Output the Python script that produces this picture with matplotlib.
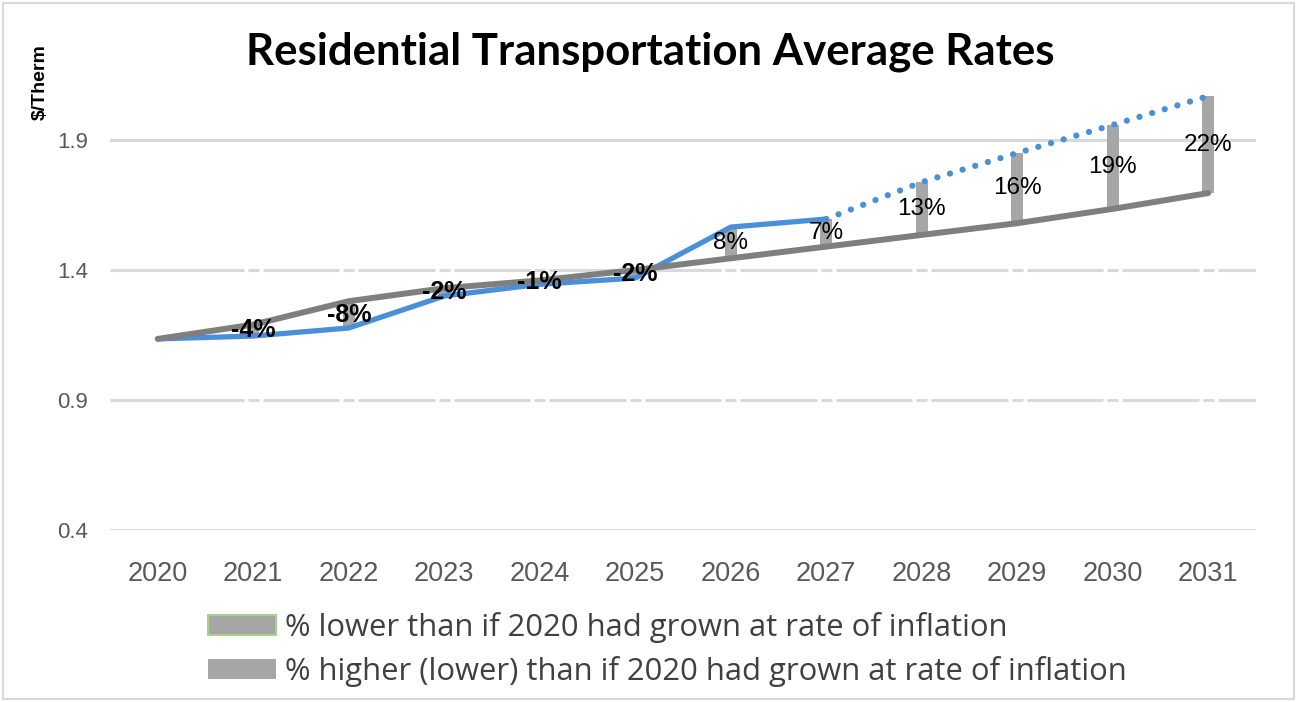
import matplotlib
matplotlib.use("Agg")
import matplotlib.pyplot as plt
from matplotlib.patches import Patch, Rectangle
import numpy as np

years = ["2020", "2021", "2022", "2023", "2024", "2025", "2026", "2027", "2028", "2029", "2030", "2031"]
inflation_path = [1.135, 1.19, 1.28, 1.33, 1.36, 1.40, 1.445, 1.49, 1.535, 1.58, 1.635, 1.696]
actual_rates = [1.135, 1.146, 1.177, 1.30, 1.345, 1.369, 1.565, 1.596]
forecast_rates = [1.596, 1.738, 1.85, 1.958, 2.069]
pct_labels = ["", "-4%", "-8%", "-2%", "-1%", "-2%", "8%", "7%", "13%", "16%", "19%", "22%"]
y_ticks = [0.4, 0.9, 1.4, 1.9]

W, H = 1297, 702
fig = plt.figure(figsize=(W / 100, H / 100), dpi=100)
ax = fig.add_axes([110 / W, 1 - 530 / H, (1256 - 110) / W, (530 - 88) / H])

x = np.arange(len(years))
infl = np.array(inflation_path)
rates = np.array(actual_rates + forecast_rates[1:])

grid_c = "#D9D9D9"
for yv in y_ticks:
    if yv in (0.9, 1.4):
        segs = [(-0.5, 1 - 0.1)]
        for i in range(1, len(years)):
            segs.append((i - 0.0575, i + 0.0575))
            end = i + 0.9 if i < len(years) - 1 else 11.5
            segs.append((i + 0.1, min(end, 11.5)))
        for a, b in segs:
            ax.plot([a, b], [yv, yv], color=grid_c, lw=2.2, solid_capstyle="butt", zorder=0)
    else:
        ax.axhline(yv, color=grid_c, lw=2.2, zorder=0)

ax.bar(x, rates - infl, bottom=infl, width=0.13, color="#A6A6A6", zorder=1)

blue = "#4A90D9"
n_act = len(actual_rates)
ax.plot(x[:n_act], rates[:n_act], color=blue, lw=3.8, solid_capstyle="round",
        solid_joinstyle="round", zorder=2)
ax.plot(x[n_act - 1:], rates[n_act - 1:], color=blue, lw=4.5, linestyle=(0, (0.01, 2.1)),
        dash_capstyle="round", zorder=2)
ax.plot(x, infl, color="#7F7F7F", lw=4.3, solid_capstyle="round", solid_joinstyle="round", zorder=3)

for i, lab in enumerate(pct_labels):
    if not lab:
        continue
    ymid = (rates[i] + infl[i]) / 2
    neg = lab.startswith("-")
    ax.text(x[i], ymid, lab, ha="center", va="center", fontsize=18 if neg else 17.5,
            fontweight="bold" if neg else "normal", family="Liberation Sans",
            color="black", zorder=4)

ax.set_xlim(-0.5, 11.5)
ax.set_ylim(0.4, 2.1)
ax.set_xticks(x)
ax.set_xticklabels(years, fontsize=19.5, color="#595959", family="Liberation Sans")
ax.set_yticks(y_ticks)
ax.set_yticklabels([f"{v:.1f}" for v in y_ticks], fontsize=16, color="#595959", family="Liberation Sans")
ax.tick_params(length=0)
ax.tick_params(axis="x", pad=22)
ax.tick_params(axis="y", pad=16)
for s in ax.spines.values():
    s.set_visible(False)

fig.text(650 / W, 1 - 52 / H, "Residential Transportation Average Rates", ha="center", va="center",
         fontsize=31.5, fontweight="bold", family="Lato", color="black")
fig.text(40 / W, 1 - 82 / H, "$/Therm", rotation=90, ha="center", va="center",
         fontsize=14, fontweight="bold", family="Liberation Sans", color="black")

handles = [Patch(facecolor="#A6A6A6", edgecolor="#A9D18E", linewidth=1.5),
           Patch(facecolor="#A6A6A6", edgecolor="#A6A6A6", linewidth=0)]
labels = ["% lower than if 2020 had grown at rate of inflation",
          "% higher (lower) than if 2020 had grown at rate of inflation"]
leg = fig.legend(handles, labels, loc="upper left", bbox_to_anchor=(208 / W, 1 - 612 / H),
                 frameon=False, prop={"family": "Open Sans", "size": 22.3},
                 handlelength=2.2, handleheight=0.6, handletextpad=0.3, labelspacing=0.42,
                 borderaxespad=0, borderpad=0)
for t in leg.get_texts():
    t.set_color("#404040")

fig.patches.append(Rectangle((3 / W, 3 / H), (W - 6) / W, (H - 6) / H, transform=fig.transFigure,
                             fill=False, edgecolor="#D9D9D9", lw=1.5))

fig.savefig("out.png", dpi=100)
